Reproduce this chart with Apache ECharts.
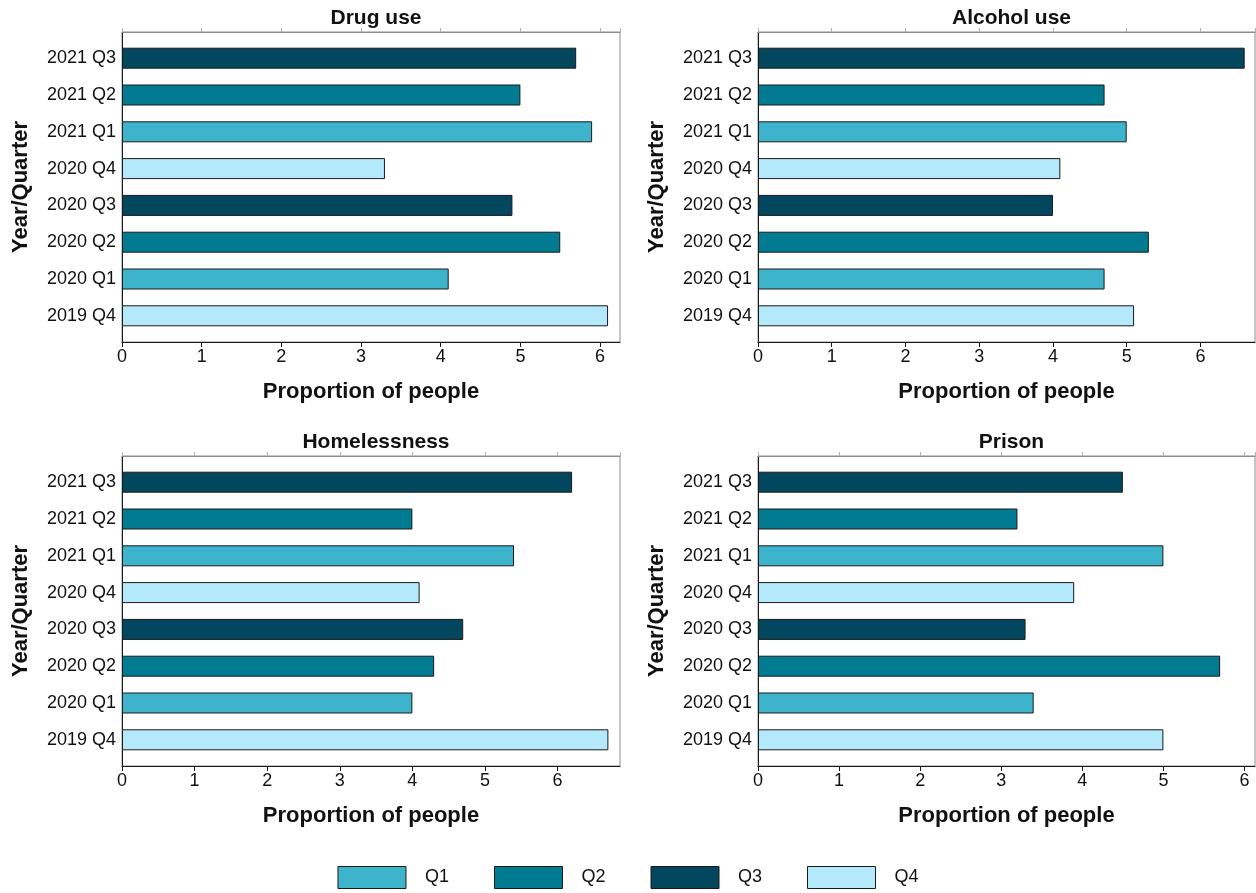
<!DOCTYPE html>
<html>
<head>
<meta charset="utf-8">
<script src="https://cdn.jsdelivr.net/npm/echarts@6/dist/echarts.min.js"></script>
<style>
  html, body { margin: 0; padding: 0; background: #ffffff; }
  #chart { width: 1256px; height: 893px; }
</style>
</head>
<body>
<div id="chart"></div>
<script>
// Year/quarter categories, listed bottom to top
const categories = ['2019 Q4', '2020 Q1', '2020 Q2', '2020 Q3', '2020 Q4', '2021 Q1', '2021 Q2', '2021 Q3'];
const quarters = ['Q1', 'Q2', 'Q3', 'Q4'];

// Proportion of people, one array per panel, same order as categories
const drugUse      = [6.1, 4.1, 5.5, 4.9, 3.3, 5.9, 5.0, 5.7];
const alcoholUse   = [5.1, 4.7, 5.3, 4.0, 4.1, 5.0, 4.7, 6.6];
const homelessness = [6.7, 4.0, 4.3, 4.7, 4.1, 5.4, 4.0, 6.2];
const prison       = [5.0, 3.4, 5.7, 3.3, 3.9, 5.0, 3.2, 4.5];

const panelTitles = ['Drug use', 'Alcohol use', 'Homelessness', 'Prison'];
const panelValues = [drugUse, alcoholUse, homelessness, prison];
const xAxisMax = [6.25, 6.74, 6.86, 6.13];
const xTicks = [0, 1, 2, 3, 4, 5, 6];

const quarterColors = { Q1: '#3db3cc', Q2: '#007b91', Q3: '#03475e', Q4: '#b4e9fc' };

// panel frames in pixels
const frames = [
  { left: 122, top: 32,  width: 498, height: 310 },
  { left: 758, top: 32,  width: 497, height: 310 },
  { left: 122, top: 456, width: 498, height: 310 },
  { left: 758, top: 456, width: 497, height: 310 }
];
const catPad = 7.8; // extra space above/below the outer categories

const FONT = '"Liberation Sans", Arial, Helvetica, sans-serif';
const grid = [], xAxis = [], yAxis = [], series = [], title = [];

frames.forEach((f, p) => {
  const frameIdx = grid.length;
  // frame grid: border, value axis with ticks and labels
  grid.push({ left: f.left, top: f.top, width: f.width, height: f.height,
              show: true, borderColor: '#8c8c8c', borderWidth: 1, backgroundColor: '#ffffff' });
  const dataIdx = grid.length;
  grid.push({ left: f.left, top: f.top + catPad, width: f.width, height: f.height - 2 * catPad });

  const fmt = v => (xTicks.indexOf(Math.round(v * 1000) / 1000) >= 0 ? String(v) : '');
  xAxis.push({
    type: 'value', gridIndex: frameIdx, position: 'bottom', min: 0, max: xAxisMax[p], interval: 1,
    axisLine: { show: true, lineStyle: { color: '#1a1a1a', width: 1 } },
    axisTick: { show: true, length: 5, lineStyle: { color: '#1a1a1a' } },
    axisLabel: { fontFamily: FONT, fontSize: 18, color: '#111', margin: 6, formatter: fmt, showMaxLabel: false },
    splitLine: { show: false },
    name: 'Proportion of people', nameLocation: 'middle', nameGap: 39,
    nameTextStyle: { fontFamily: FONT, fontSize: 22, fontWeight: 'bold', color: '#111' }
  });
  const topAxisIdx = xAxis.length;
  xAxis.push({
    type: 'value', gridIndex: frameIdx, position: 'top', min: 0, max: xAxisMax[p], interval: 1,
    axisLine: { show: true, lineStyle: { color: '#8c8c8c', width: 1 } },
    axisTick: { show: true, length: 4, lineStyle: { color: '#b0b0b0' } },
    axisLabel: { show: false }, splitLine: { show: false }
  });
  const dataXIdx = xAxis.length;
  xAxis.push({ type: 'value', gridIndex: dataIdx, min: 0, max: xAxisMax[p], show: false, splitLine: { show: false } });

  yAxis.push({
    type: 'value', gridIndex: frameIdx, min: 0, max: 1,
    axisLine: { show: true, lineStyle: { color: '#1a1a1a', width: 1 } },
    axisTick: { show: false }, axisLabel: { show: false }, splitLine: { show: false },
    name: 'Year/Quarter', nameLocation: 'middle', nameGap: 90, nameRotate: 90,
    nameTextStyle: { fontFamily: FONT, fontSize: 22, fontWeight: 'bold', color: '#111' }
  });
  const dataYIdx = yAxis.length;
  yAxis.push({
    type: 'category', gridIndex: dataIdx, data: categories,
    axisLine: { show: false }, axisTick: { show: false },
    axisLabel: { fontFamily: FONT, fontSize: 18, color: '#111', margin: 6 }
  });

  // keep the top tick axis referenced so it is drawn
  series.push({ type: 'line', xAxisIndex: topAxisIdx, yAxisIndex: yAxis.length - 2, data: [], silent: true });

  quarters.forEach(q => {
    series.push({
      name: q, type: 'bar', stack: 'panel' + p,
      xAxisIndex: dataXIdx, yAxisIndex: dataYIdx,
      barWidth: 21,
      itemStyle: { color: quarterColors[q], borderColor: '#1a1a1a', borderWidth: 1 },
      data: panelValues[p].map((v, i) => (categories[i].slice(-2) === q ? v : '-'))
    });
  });

  title.push({
    text: panelTitles[p], left: f.left + f.width / 2, top: f.top - 29, textAlign: 'center',
    textStyle: { fontFamily: FONT, fontSize: 21, fontWeight: 'bold', color: '#111' }
  });
});

const chart = echarts.init(document.getElementById('chart'), null, { renderer: 'canvas' });
chart.setOption({
  animation: false,
  backgroundColor: '#ffffff',
  title,
  grid, xAxis, yAxis, series,
  legend: {
    data: quarters, left: 'center', top: 866, padding: 0,
    icon: 'rect', itemWidth: 68, itemHeight: 22, itemGap: 45,
    itemStyle: { borderWidth: 1, borderColor: '#1a1a1a' },
    textStyle: { fontFamily: FONT, fontSize: 18, color: '#111', padding: [0, 0, 0, 14] }
  }
});
</script>
</body>
</html>
